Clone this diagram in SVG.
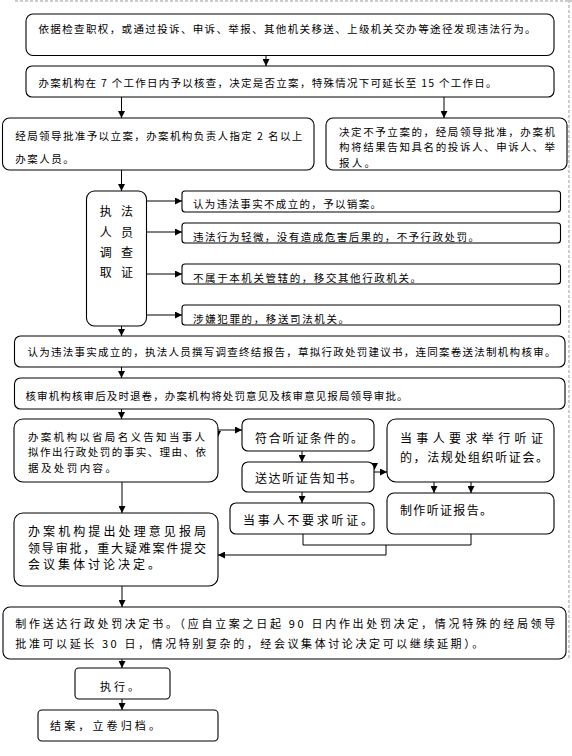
<svg xmlns="http://www.w3.org/2000/svg" width="572" height="756" viewBox="0 0 572 756">
<defs>
<style>
.b{fill:#fff;stroke:#000;stroke-width:1.1}
.t{font-family:"Noto Sans CJK SC","Liberation Sans",sans-serif;font-size:10.5px;fill:#000}
.m{font-size:12px}
.l{font-size:12px}
.c{stroke:#000;stroke-width:1;fill:none}
.pg{stroke:#999;stroke-width:1;stroke-dasharray:3 2;fill:none}
</style>
<marker id="a" viewBox="0 0 8 8" refX="8" refY="4" markerWidth="7" markerHeight="7" markerUnits="userSpaceOnUse" orient="auto">
<path d="M0,0 L8,4 L0,8 z" fill="#000"/>
</marker>
</defs>
<rect width="572" height="756" fill="#fff"/>
<g id="page">
<line class="pg" x1="15" y1="1" x2="572" y2="1"/>
<line class="pg" x1="569" y1="0" x2="569" y2="660"/>
</g>
<g id="connectors">
<line class="c" x1="266" y1="55.5" x2="266" y2="66" marker-end="url(#a)"/>
<line class="c" x1="121.5" y1="97" x2="121.5" y2="118" marker-end="url(#a)"/>
<line class="c" x1="444" y1="97" x2="444" y2="118" marker-end="url(#a)"/>
<line class="c" x1="121.5" y1="170" x2="121.5" y2="191" marker-end="url(#a)"/>
<line class="c" x1="146.5" y1="201" x2="182" y2="201" marker-end="url(#a)"/>
<line class="c" x1="146.5" y1="232" x2="182" y2="232" marker-end="url(#a)"/>
<line class="c" x1="146.5" y1="274" x2="182" y2="274" marker-end="url(#a)"/>
<line class="c" x1="146.5" y1="315" x2="182" y2="315" marker-end="url(#a)"/>
<path d="M118,318 L125,318 L121.5,325.5 z" fill="#000"/>
<line class="c" x1="121.5" y1="326" x2="121.5" y2="336" marker-end="url(#a)"/>
<line class="c" x1="121.5" y1="367" x2="121.5" y2="378" marker-end="url(#a)"/>
<line class="c" x1="121.5" y1="409" x2="121.5" y2="419" marker-end="url(#a)"/>
<line class="c" x1="218" y1="430" x2="242" y2="430" marker-end="url(#a)"/>
<path d="M214,431 L221,431 L217.5,438 z" fill="#000"/>
<line class="c" x1="302" y1="451" x2="302" y2="462" marker-end="url(#a)"/>
<line class="c" x1="302" y1="492" x2="302" y2="503" marker-end="url(#a)"/>
<path d="M371,463 L378,463 L374.5,470 z" fill="#000"/>
<line class="c" x1="374" y1="472" x2="387" y2="472" marker-end="url(#a)"/>
<line class="c" x1="434" y1="482" x2="434" y2="493" marker-end="url(#a)"/>
<line class="c" x1="471" y1="482" x2="471" y2="493" marker-end="url(#a)"/>
<path class="c" d="M303,534 V545 H471 V534"/>
<path class="c" d="M386,545 V555 H218" marker-end="url(#a)"/>
<line class="c" x1="122" y1="482" x2="122" y2="513" marker-end="url(#a)"/>
<line class="c" x1="122" y1="586" x2="122" y2="607" marker-end="url(#a)"/>
<line class="c" x1="122" y1="659" x2="122" y2="668" marker-end="url(#a)"/>
<line class="c" x1="122" y1="699" x2="122" y2="710" marker-end="url(#a)"/>
</g>
<g id="n1">
<rect class="b" x="26" y="14" width="528" height="41.5" rx="7"/>
<text class="t" x="38.5" y="33" textLength="497" lengthAdjust="spacing">依据检查职权，或通过投诉、申诉、举报、其他机关移送、上级机关交办等途径发现违法行为。</text>
</g>
<g id="n2">
<rect class="b" x="26" y="66" width="528" height="31" rx="6"/>
<text class="t" x="38.5" y="86.5" textLength="458" lengthAdjust="spacing">办案机构在 7 个工作日内予以核查，决定是否立案，特殊情况下可延长至 15 个工作日。</text>
</g>
<g id="n3">
<rect class="b" x="2.5" y="118" width="311.5" height="52" rx="7"/>
<text class="t" x="15.3" y="139.5" textLength="287" lengthAdjust="spacing">经局领导批准予以立案，办案机构负责人指定 2 名以上</text>
<text class="t" x="15.3" y="163" textLength="58.5" lengthAdjust="spacing">办案人员。</text>
</g>
<g id="n4">
<rect class="b" x="326" y="118" width="241" height="52" rx="7"/>
<text class="t" x="339" y="135.5" textLength="216" lengthAdjust="spacing">决定不予立案的，经局领导批准，办案机</text>
<text class="t" x="339" y="151" textLength="216" lengthAdjust="spacing">构将结果告知具名的投诉人、申诉人、举</text>
<text class="t" x="339" y="166.5" textLength="36" lengthAdjust="spacing">报人。</text>
</g>
<g id="n5">
<rect class="b" x="86.5" y="191" width="60" height="135" rx="8"/>
<g class="t m" text-anchor="middle">
<text x="105.8" y="215.5">执</text><text x="127" y="215.5">法</text>
<text x="105.8" y="236.5">人</text><text x="127" y="236.5">员</text>
<text x="105.8" y="256.5">调</text><text x="127" y="256.5">查</text>
<text x="105.8" y="276.5">取</text><text x="127" y="276.5">证</text>
</g>
</g>
<g id="r1">
<rect class="b" x="182" y="191" width="378.5" height="21" rx="3"/>
<text class="t" x="193" y="208" textLength="188" lengthAdjust="spacing">认为违法事实不成立的，予以销案。</text>
</g>
<g id="r2">
<rect class="b" x="182" y="223" width="378.5" height="20" rx="3"/>
<text class="t" x="193" y="241" textLength="286" lengthAdjust="spacing">违法行为轻微，没有造成危害后果的，不予行政处罚。</text>
</g>
<g id="r3">
<rect class="b" x="182" y="264" width="378.5" height="20" rx="3"/>
<text class="t" x="193" y="282" textLength="228" lengthAdjust="spacing">不属于本机关管辖的，移交其他行政机关。</text>
</g>
<g id="r4">
<rect class="b" x="182" y="305" width="378.5" height="20" rx="3"/>
<text class="t" x="193" y="323" textLength="156" lengthAdjust="spacing">涉嫌犯罪的，移送司法机关。</text>
</g>
<g id="n6">
<rect class="b" x="14.5" y="336" width="550.5" height="31" rx="6"/>
<text class="t" x="27.4" y="356" textLength="528" lengthAdjust="spacing">认为违法事实成立的，执法人员撰写调查终结报告，草拟行政处罚建议书，连同案卷送法制机构核审。</text>
</g>
<g id="n7">
<rect class="b" x="14.5" y="378" width="550.5" height="31" rx="6"/>
<text class="t" x="25.5" y="400" textLength="382" lengthAdjust="spacing">核审机构核审后及时退卷，办案机构将处罚意见及核审意见报局领导审批。</text>
</g>
<g id="n8">
<rect class="b" x="14" y="419" width="204" height="63" rx="9"/>
<text class="t" x="28" y="441" textLength="177" lengthAdjust="spacing">办案机构以省局名义告知当事人</text>
<text class="t" x="28" y="456" textLength="178" lengthAdjust="spacing">拟作出行政处罚的事实、理由、依</text>
<text class="t" x="28" y="472" textLength="88" lengthAdjust="spacing">据及处罚内容。</text>
</g>
<g id="n9">
<rect class="b" x="242" y="419" width="132" height="32" rx="6"/>
<text class="t m" x="255" y="442.5" textLength="108" lengthAdjust="spacing">符合听证条件的。</text>
</g>
<g id="n10">
<rect class="b" x="242" y="462" width="132" height="30" rx="6"/>
<text class="t m" x="255" y="482.5" textLength="107" lengthAdjust="spacing">送达听证告知书。</text>
</g>
<g id="n11">
<rect class="b" x="230" y="503" width="144" height="31" rx="6"/>
<text class="t m" x="243" y="524.5" textLength="130" lengthAdjust="spacing">当事人不要求听证。</text>
</g>
<g id="n12">
<rect class="b" x="387" y="419" width="167" height="63" rx="9"/>
<text class="t m" x="400" y="442.5" textLength="143" lengthAdjust="spacing">当事人要求举行听证</text>
<text class="t m" x="400" y="461.5" textLength="148" lengthAdjust="spacing">的，法规处组织听证会。</text>
</g>
<g id="n13">
<rect class="b" x="387" y="493" width="167" height="41" rx="7"/>
<text class="t m" x="400" y="514.5" textLength="92" lengthAdjust="spacing">制作听证报告。</text>
</g>
<g id="n14">
<rect class="b" x="14" y="513" width="204" height="73" rx="9"/>
<text class="t l" x="28" y="536" textLength="178" lengthAdjust="spacing">办案机构提出处理意见报局</text>
<text class="t l" x="28" y="552.5" textLength="178" lengthAdjust="spacing">领导审批，重大疑难案件提交</text>
<text class="t l" x="28" y="569" textLength="132" lengthAdjust="spacing">会议集体讨论决定。</text>
</g>
<g id="n15">
<rect class="b" x="3" y="607" width="563" height="52" rx="7"/>
<text class="t" x="15.3" y="628" textLength="540" lengthAdjust="spacing" style="font-size:11px">制作送达行政处罚决定书。（应自立案之日起 90 日内作出处罚决定，情况特殊的经局领导</text>
<text class="t" x="15.3" y="648" textLength="468" lengthAdjust="spacing" style="font-size:11px">批准可以延长 30 日，情况特别复杂的，经会议集体讨论决定可以继续延期）。</text>
</g>
<g id="n16">
<rect class="b" x="75" y="668" width="95" height="31" rx="4"/>
<text class="t" x="100" y="691" textLength="39" lengthAdjust="spacing" style="font-size:11px">执行。</text>
</g>
<g id="n17">
<rect class="b" x="38" y="710" width="180" height="31" rx="4"/>
<text class="t" x="50" y="730" textLength="110" lengthAdjust="spacing" style="font-size:11px">结案，立卷归档。</text>
</g>
</svg>
